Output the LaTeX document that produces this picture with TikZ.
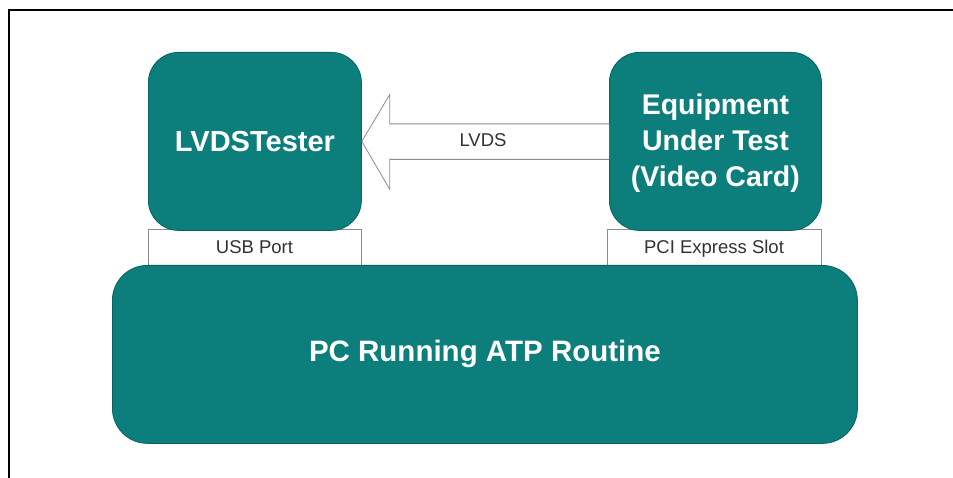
\documentclass[tikz,border=0pt]{standalone}
\usepackage{fontspec}
\setmainfont{Liberation Sans}
\usetikzlibrary{calc}
\definecolor{teal1}{RGB}{12,126,124}
\definecolor{teal2}{RGB}{8,100,98}
\definecolor{lbl}{RGB}{50,50,50}
\definecolor{edge}{RGB}{140,140,140}
\tikzset{
  unit/.style={draw=teal2, line width=0.8pt, fill=teal1, rounded corners=30pt, inner sep=0pt},
  unittext/.style={text=white, font=\bfseries\fontsize{29}{36}\selectfont, align=center},
  port/.style={draw=edge, line width=0.8pt, fill=white, inner sep=0pt},
  porttext/.style={text=lbl, font=\fontsize{18.5}{22}\selectfont, anchor=base},
  frame/.style={line width=1.5pt, black},
  bigarrow/.style={draw=edge, line width=0.8pt, fill=white}
}
\begin{document}
\begin{tikzpicture}[x=1pt,y=-1pt]
\useasboundingbox (0,0) rectangle (953,478);
\fill[white] (0,0) rectangle (953,478);
\draw[frame] (9,478) -- (9,10) -- (953,10);
% ports
\node[port, minimum width=213pt, minimum height=36pt, anchor=north west] (usb) at (148,229) {};
\node[port, minimum width=214pt, minimum height=36pt, anchor=north west] (pci) at (607,229) {};
\node[porttext] (usbt) at (254.5,254) {USB Port};
\node[porttext] (pcit) at (714,254) {PCI Express Slot};
% units
\node[unit, minimum width=213pt, minimum height=178pt, anchor=north west] (tester) at (148,52) {};
\node[unittext] (testert) at (tester.center) {LVDSTester};
\node[unit, minimum width=212pt, minimum height=178pt, anchor=north west] (eut) at (609,52) {};
\node[unittext, font=\bfseries\fontsize{28.5}{36}\selectfont] (eutt) at ($(eut.center)+(0,1.5)$) {Equipment\\Under Test\\(Video Card)};
\node[unit, rounded corners=35pt, minimum width=745pt, minimum height=178pt, anchor=north west] (pc) at (112,265) {};
\node[unittext, font=\bfseries\fontsize{29.5}{35}\selectfont] (pct) at (pc.center) {PC Running ATP Routine};
% arrow
\draw[bigarrow] ($(eut.west)+(0,-17.5)$) -- ($(tester.east)+(28,-17.5)$) -- ($(tester.east)+(28,-47)$)
  -- (tester.east) -- ($(tester.east)+(28,48)$) -- ($(tester.east)+(28,18)$) -- ($(eut.west)+(0,18)$);
\node[porttext] (lvds) at (483,147) {LVDS};
\end{tikzpicture}
\end{document}
